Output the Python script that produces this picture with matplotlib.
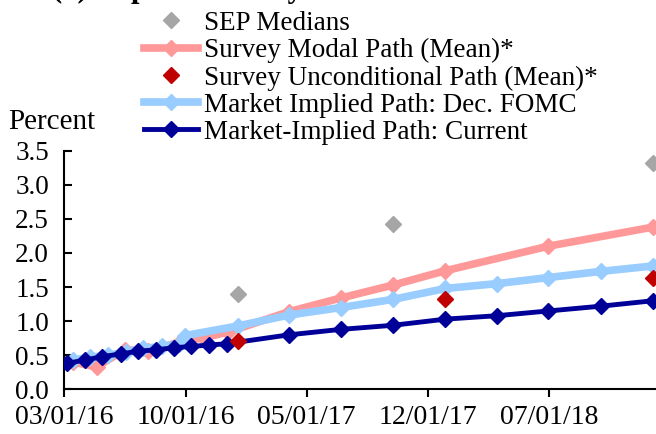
import pandas as pd
import matplotlib
matplotlib.use("Agg")
import matplotlib.pyplot as plt
import matplotlib.dates as mdates

plt.rcParams['font.family'] = ['Liberation Serif', 'DejaVu Serif']

# -----------------------------
# Data
# -----------------------------
sep_dates = ["2016-12-31", "2017-09-30", "2018-12-31"]
sep_vals = [1.40, 2.42, 3.32]

modal_dates = ["2016-03-16", "2016-04-27", "2016-06-15", "2016-07-27", "2016-09-21",
               "2016-11-02", "2016-12-14", "2017-03-31", "2017-06-30", "2017-09-30",
               "2017-12-31", "2018-06-30", "2018-12-31"]
modal_vals = [0.40, 0.33, 0.58, 0.56, 0.70, 0.76, 0.84, 1.14, 1.34, 1.53, 1.74, 2.10, 2.38]

uncond_dates = ["2016-12-31", "2017-12-31", "2018-12-31"]
uncond_vals = [0.71, 1.33, 1.64]

dec_dates = ["2016-03-16", "2016-04-15", "2016-05-17", "2016-06-18", "2016-07-18",
             "2016-08-19", "2016-09-19", "2016-09-30", "2016-12-31", "2017-03-31",
             "2017-06-30", "2017-09-30", "2017-12-31", "2018-03-31", "2018-06-30",
             "2018-09-30", "2018-12-31"]
dec_vals = [0.43, 0.47, 0.50, 0.55, 0.60, 0.63, 0.67, 0.79, 0.93, 1.09,
            1.20, 1.32, 1.48, 1.55, 1.64, 1.73, 1.81]

cur_dates = ["2016-03-05", "2016-04-06", "2016-05-07", "2016-06-08", "2016-07-09",
             "2016-08-09", "2016-09-09", "2016-10-10", "2016-11-11", "2016-12-12",
             "2017-03-31", "2017-06-30", "2017-09-30", "2017-12-31", "2018-03-31",
             "2018-06-30", "2018-09-30", "2018-12-31"]
cur_vals = [0.38, 0.43, 0.48, 0.52, 0.56, 0.58, 0.61, 0.63, 0.65, 0.67,
            0.80, 0.88, 0.94, 1.03, 1.08, 1.15, 1.22, 1.30]

tick_dates = ["2016-03-01", "2016-10-01", "2017-05-01", "2017-12-01", "2018-07-01"]
yticks = [0.0, 0.5, 1.0, 1.5, 2.0, 2.5, 3.0, 3.5]

# -----------------------------
# Figure
# -----------------------------
fig = plt.figure(figsize=(6.56, 4.34), dpi=100)
ax = fig.add_axes([0.098, 0.1028, 0.902, 0.55])

ms = 8.5
ax.plot(pd.to_datetime(modal_dates), modal_vals, color="#FF9999", lw=5.5, marker="D",
        ms=ms, mec="#FF9999", zorder=2, label="Survey Modal Path (Mean)*")
ax.plot(pd.to_datetime(dec_dates), dec_vals, color="#99CCFF", lw=5.5, marker="D",
        ms=ms, mec="#99CCFF", zorder=3, label="Market Implied Path: Dec. FOMC")
ax.plot(pd.to_datetime(cur_dates), cur_vals, color="#000099", lw=3.5, marker="D",
        ms=ms, mec="#000099", zorder=4, label="Market-Implied Path: Current")
ax.plot(pd.to_datetime(uncond_dates), uncond_vals, ls="none", marker="D", ms=ms,
        color="#C00000", zorder=5, label="Survey Unconditional Path (Mean)*")
ax.plot(pd.to_datetime(sep_dates), sep_vals, ls="none", marker="D", ms=ms,
        color="#A6A6A6", zorder=6, label="SEP Medians")

ax.set_xlim(pd.Timestamp("2016-03-01"), pd.Timestamp("2019-01-05"))
ax.set_ylim(0, 3.5)
ax.set_yticks(yticks)
ax.set_yticklabels([f"{v:.1f}" for v in yticks])
ax.set_xticks(pd.to_datetime(tick_dates))
ax.xaxis.set_major_formatter(mdates.DateFormatter("%m/%d/%y"))

for s in ["top", "right"]:
    ax.spines[s].set_visible(False)
for s in ["left", "bottom"]:
    ax.spines[s].set_linewidth(1.5)
ax.tick_params(axis="y", direction="in", length=6, width=1.5, labelsize=19.5, pad=11)
ax.tick_params(axis="x", direction="out", length=6, width=1.5, labelsize=20, pad=5)

fig.text(0.012, 0.718, "Percent", fontsize=21, ha="left", va="center")
# title sits mostly above the top edge, as in the cropped original
fig.text(0.08, 1.008, "(a) Expected Policy Rate Path", fontsize=22, fontweight="bold",
         ha="left", va="baseline")

# legend order as in the reference
handles, labels = ax.get_legend_handles_labels()
order = [4, 0, 3, 1, 2]
fig.legend([handles[i] for i in order], [labels[i] for i in order],
           loc="upper left", bbox_to_anchor=(0.199, 1.006), frameon=False,
           fontsize=19.5, labelspacing=0.08, handlelength=2.0, handletextpad=0.2,
           borderpad=0)

fig.savefig("out.png", dpi=100)
